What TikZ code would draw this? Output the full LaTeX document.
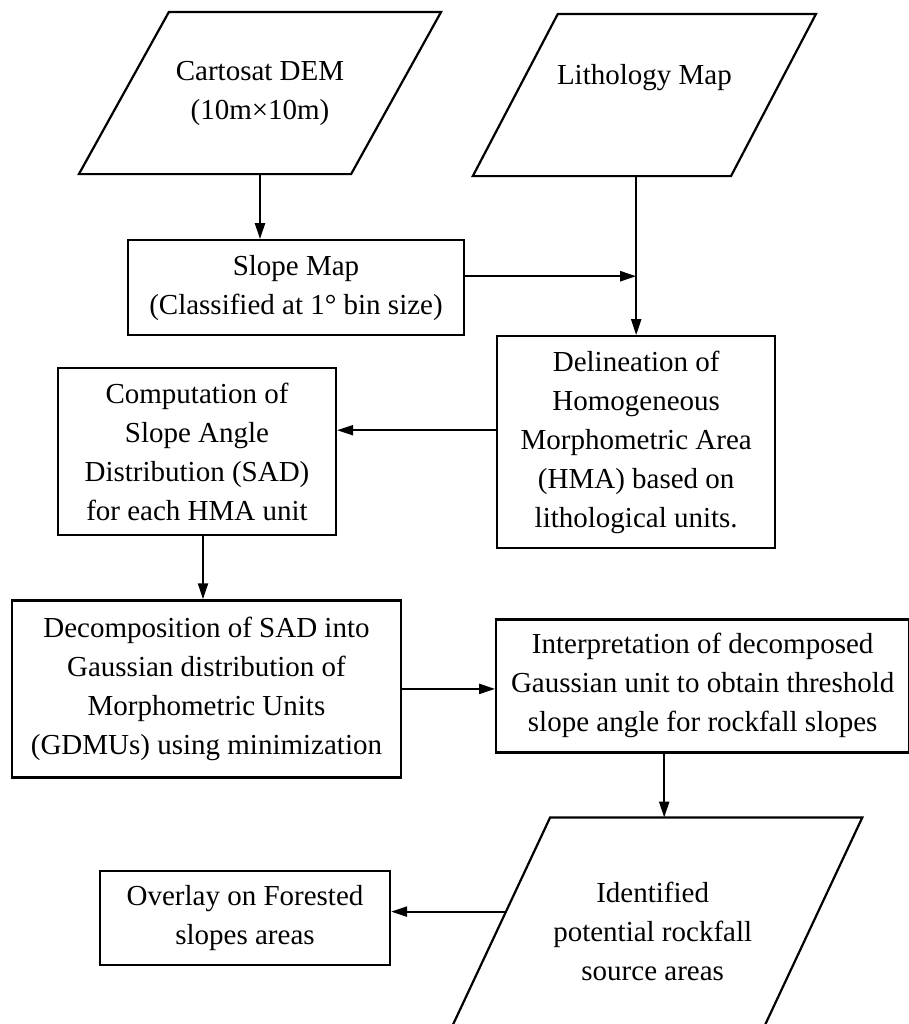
\documentclass[tikz,border=0pt]{standalone}
\usepackage{fontspec}
\setmainfont{Liberation Serif}
\usetikzlibrary{
arrows.meta,
positioning
}

\begin{document}
\begin{tikzpicture}[
    line width=1.1pt,
    >={Triangle[length=8pt,width=5pt]},
    font=\fontsize{14.5}{19.5}\selectfont,
    box/.style={draw,
      align=center,
      inner sep=2pt},
    iobox/.style={align=center, inner sep=0pt}
  ]
  \path[use as bounding box, fill=white] (0,0) rectangle (454.5pt,-512pt);

  % input data (parallelograms drawn below)
  \node[iobox, minimum width=135pt, minimum height=80pt] (cart) at (130pt,-46.5pt) {%
    Cartosat DEM\\
    (10m×10m)};
  \node[iobox, minimum width=128pt, minimum height=80pt, right=59.6pt of cart, yshift=-1pt] (lith) {%
    Lithology Map\\[1pt]
    \mbox{}};
  \node[box, minimum width=168pt, minimum height=47.5pt, below=32.5pt of cart, xshift=18pt] (slope) {%
    Slope Map\\
    (Classified at 1° bin size)};
  \node[box, minimum width=139pt, minimum height=106pt, below=79.5pt of lith, xshift=-4.1pt] (delin) {%
    Delineation of\\
    Homogeneous\\
    Morphometric Area\\
    (HMA) based on\\
    lithological units.};
  \node[box, minimum width=139pt, minimum height=83.5pt, left=79.5pt of delin, yshift=-4.75pt] (comp) {%
    Computation of\\
    Slope Angle\\
    Distribution (SAD)\\
    for each HMA unit};
  \node[box, minimum width=194.5pt, minimum height=88.5pt, below=31.5pt of comp, xshift=4.75pt] (decomp) {%
    Decomposition of SAD into\\
    Gaussian distribution of\\
    Morphometric Units\\
    (GDMUs) using minimization};
  \node[box, minimum width=206.5pt, minimum height=66.5pt, right=46.5pt of decomp, yshift=1.5pt] (interp) {%
    Interpretation of decomposed\\
    Gaussian unit to obtain threshold\\
    slope angle for rockfall slopes};
  \node[iobox, minimum width=155pt, minimum height=113pt, below=32pt of interp, xshift=-25pt] (ident) {%
    Identified\\
    potential rockfall\\
    source areas};
  \node[box, minimum width=145pt, minimum height=47pt, left=52.75pt of ident, yshift=7pt] (ovl) {%
    Overlay on Forested\\
    slopes areas};

  \draw ([xshift=-22.5pt]cart.south west) -- ([xshift=22.5pt]cart.north west)
    -- ([xshift=22.5pt]cart.north east) -- ([xshift=-22.5pt]cart.south east) -- cycle;
  \draw ([xshift=-21.25pt]lith.south west) -- ([xshift=21.25pt]lith.north west)
    -- ([xshift=21.25pt]lith.north east) -- ([xshift=-21.25pt]lith.south east) -- cycle;
  \draw ([xshift=-26.75pt]ident.south west) -- ([xshift=26.75pt]ident.north west)
    -- ([xshift=26.75pt]ident.north east) -- ([xshift=-26.75pt]ident.south east) -- cycle;

  \draw[->] (cart.south) -- (cart.south |- slope.north);
  \draw[->] (delin.north |- lith.south) -- (delin.north);
  \draw[->] ([yshift=5.75pt]slope.east) -- ([yshift=5.75pt]slope.east -| delin.north);
  \draw[->] ([yshift=6pt]delin.west) -- ([yshift=6pt]delin.west -| comp.east);
  \draw[->] ([xshift=3pt]comp.south) -- ([xshift=3pt]comp.south |- decomp.north);
  \draw[->] (decomp.east) -- (decomp.east -| interp.west);
  \draw[->] ([xshift=-19.25pt]interp.south) -- ([xshift=-19.25pt]interp.south |- ident.north);
  \draw[->] ([xshift=4.75pt,yshift=10pt]ident.west) -- ([yshift=10pt]ident.west -| ovl.east);
\end{tikzpicture}
\end{document}
